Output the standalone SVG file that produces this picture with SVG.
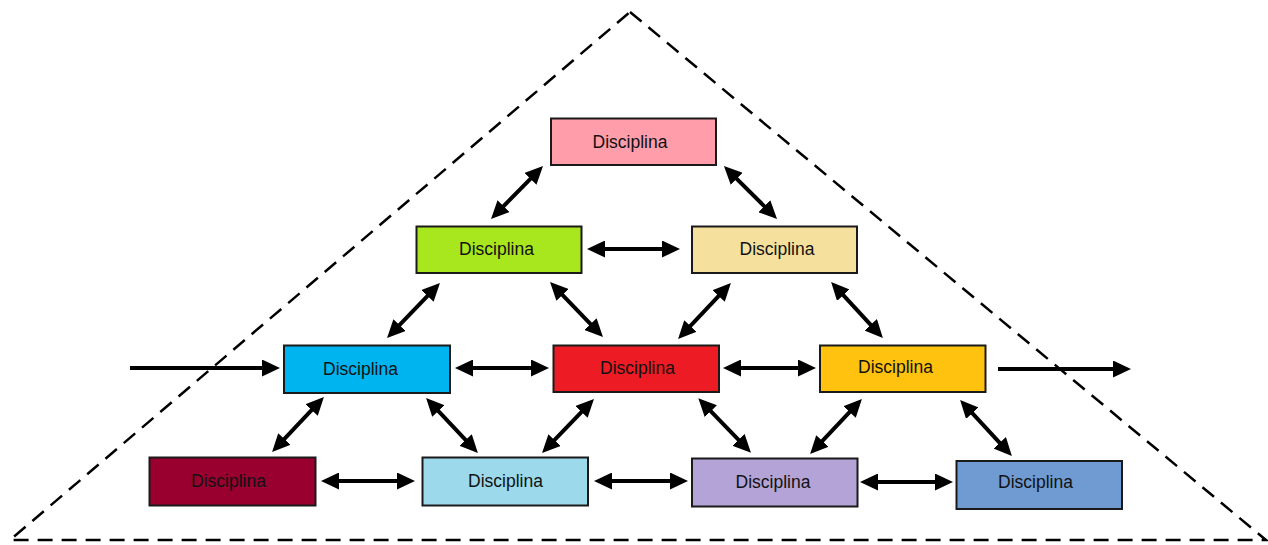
<svg xmlns="http://www.w3.org/2000/svg" width="1268" height="545" viewBox="0 0 1268 545">
<style>
.box{stroke:#1a1a1a;stroke-width:2}
.lbl{font-family:"Liberation Sans",Arial,sans-serif;font-size:17.5px;fill:#111;text-anchor:middle;dominant-baseline:central}
.c{stroke:#000;stroke-width:4;fill:none}
.d{marker-start:url(#ah);marker-end:url(#ah)}
.s{marker-end:url(#ah)}
.tri{fill:none;stroke:#000;stroke-width:2.5;stroke-dasharray:15 9}
</style>
<defs>
<marker id="ah" markerUnits="userSpaceOnUse" markerWidth="18" markerHeight="17" refX="12" refY="8.5" orient="auto-start-reverse" viewBox="0 0 18 17">
<path d="M0,0 L18,8.5 L0,17 z" fill="#000"/>
</marker>
</defs>
<rect width="1268" height="545" fill="#fff"/>
<polygon class="tri" points="630,12 1266,540 10,540"/>
<g id="connectors">
<line class="c d" x1="538.8" y1="170.3" x2="495.2" y2="214.7"/>
<line class="c d" x1="728.2" y1="170.3" x2="772.8" y2="214.7"/>
<line class="c d" x1="593" y1="249" x2="674" y2="249"/>
<line class="c d" x1="435.8" y1="287.3" x2="391.2" y2="333.7"/>
<line class="c d" x1="554.2" y1="286.3" x2="598.8" y2="332.7"/>
<line class="c d" x1="726.8" y1="287.3" x2="682.2" y2="334.7"/>
<line class="c d" x1="835.2" y1="286.3" x2="878.8" y2="333.7"/>
<line class="c d" x1="461" y1="368" x2="543" y2="368"/>
<line class="c d" x1="729" y1="368" x2="810" y2="368"/>
<line class="c s" x1="130" y1="368" x2="274" y2="368"/>
<line class="c s" x1="998" y1="369" x2="1125" y2="369"/>
<line class="c d" x1="319.8" y1="401.3" x2="276.2" y2="447.7"/>
<line class="c d" x1="430.2" y1="402.3" x2="473.8" y2="448.7"/>
<line class="c d" x1="589.8" y1="403.3" x2="546.2" y2="448.7"/>
<line class="c d" x1="702.5" y1="402.6" x2="746.8" y2="448.4"/>
<line class="c d" x1="857.8" y1="403.3" x2="814.2" y2="449.7"/>
<line class="c d" x1="964.2" y1="404.3" x2="1007.8" y2="451.7"/>
<line class="c d" x1="327" y1="481" x2="409" y2="481"/>
<line class="c d" x1="600" y1="481" x2="682" y2="481"/>
<line class="c d" x1="866" y1="482" x2="947" y2="482"/>
</g>
<g id="n1"><rect class="box" x="551" y="118.5" width="165" height="46.5" fill="#FF9DAA"/><text class="lbl" x="630" y="141.5">Disciplina</text></g>
<g id="n2"><rect class="box" x="416.5" y="226.5" width="165" height="46.5" fill="#A8E61D"/><text class="lbl" x="496.5" y="249">Disciplina</text></g>
<g id="n3"><rect class="box" x="692" y="226.5" width="165" height="46.5" fill="#F5E19D"/><text class="lbl" x="777" y="249">Disciplina</text></g>
<g id="n4"><rect class="box" x="284" y="345.5" width="166" height="47.5" fill="#00B5EF"/><text class="lbl" x="360.5" y="368.5">Disciplina</text></g>
<g id="n5"><rect class="box" x="553.5" y="345.5" width="165.5" height="46.5" fill="#ED1C24"/><text class="lbl" x="637.5" y="368">Disciplina</text></g>
<g id="n6"><rect class="box" x="820" y="345.5" width="165.5" height="46.5" fill="#FFC20E"/><text class="lbl" x="895.5" y="367">Disciplina</text></g>
<g id="n7"><rect class="box" x="149.5" y="457.5" width="166" height="48" fill="#990030"/><text class="lbl" x="228.5" y="481">Disciplina</text></g>
<g id="n8"><rect class="box" x="422.5" y="457.5" width="165.5" height="48" fill="#9CD9EA"/><text class="lbl" x="505.5" y="481">Disciplina</text></g>
<g id="n9"><rect class="box" x="692" y="458.5" width="165.5" height="48" fill="#B4A3D6"/><text class="lbl" x="773" y="481.5">Disciplina</text></g>
<g id="n10"><rect class="box" x="956.5" y="461" width="165.5" height="48" fill="#6F9BD2"/><text class="lbl" x="1035.5" y="482">Disciplina</text></g>
</svg>
